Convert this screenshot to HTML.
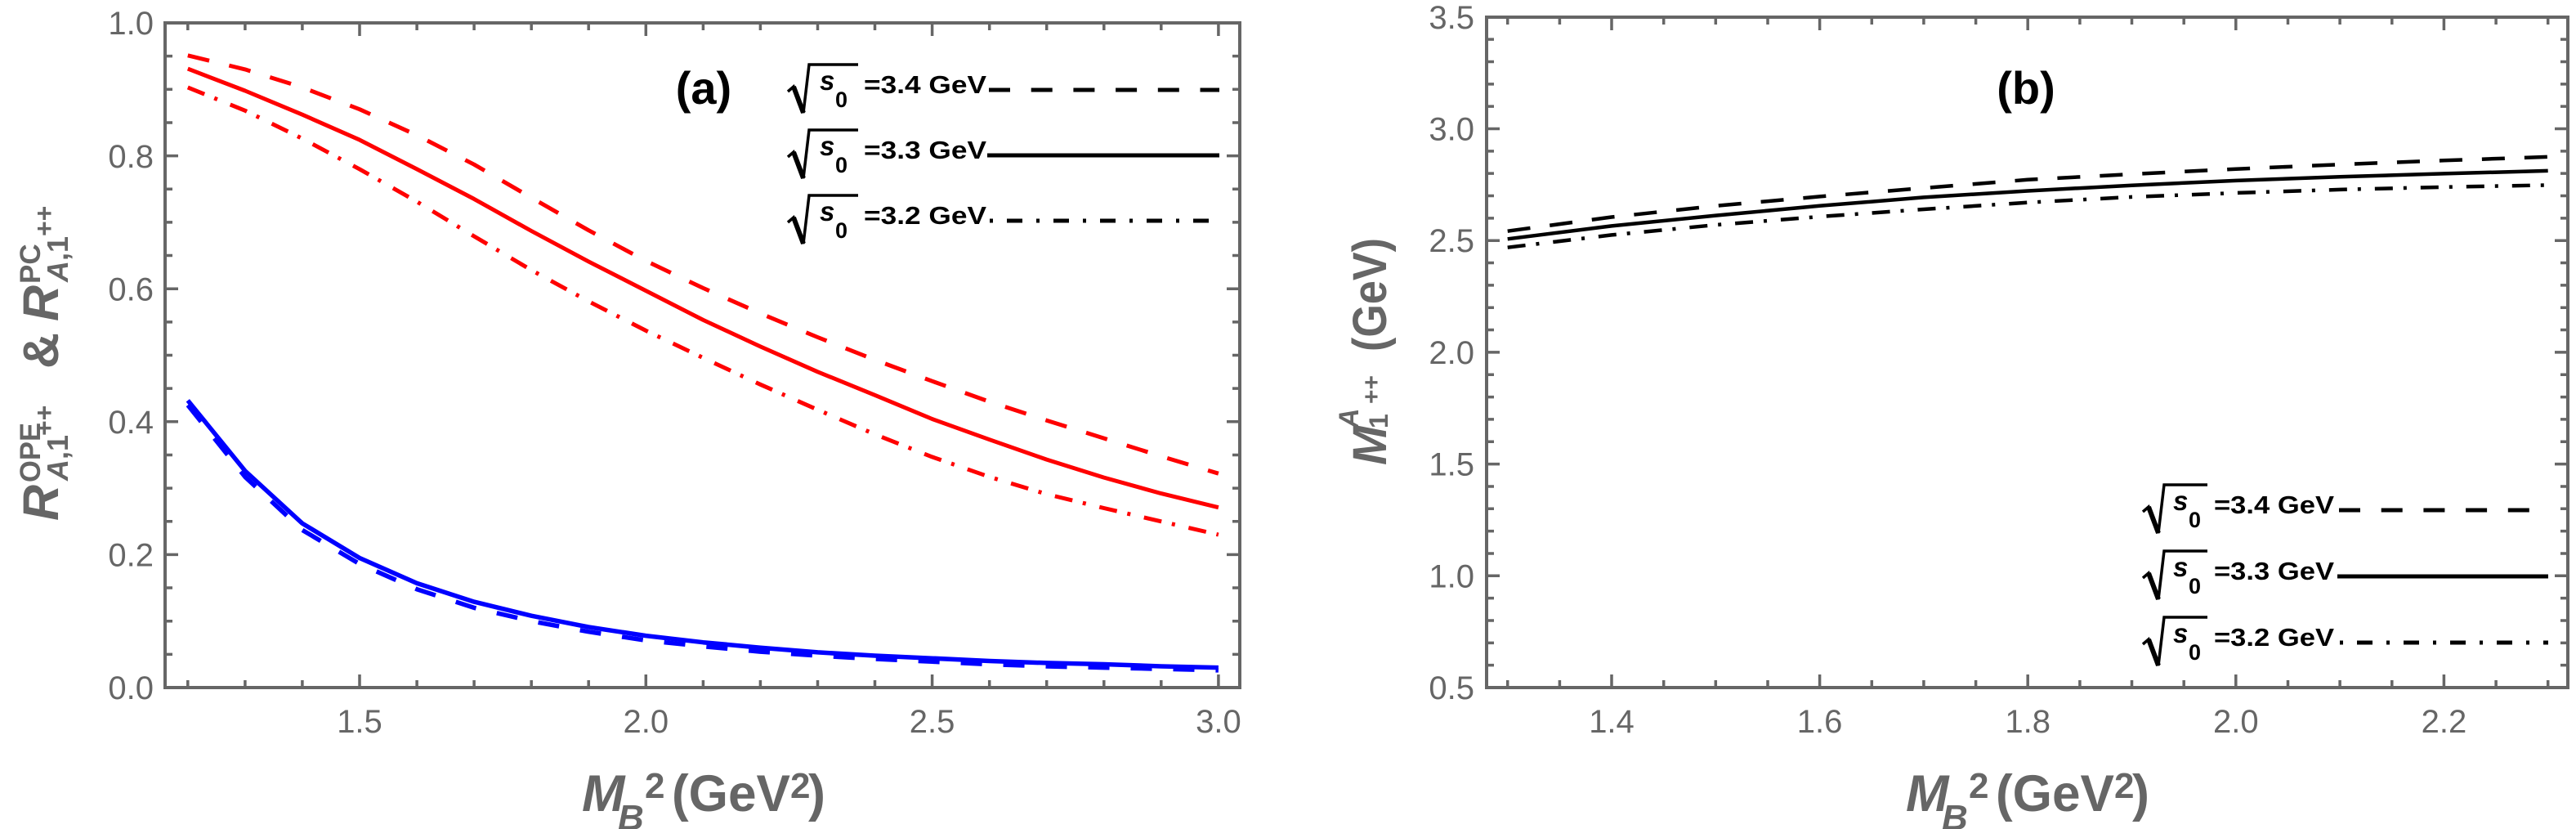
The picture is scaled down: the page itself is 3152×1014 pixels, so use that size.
<!DOCTYPE html>
<html><head><meta charset="utf-8"><style>
html,body{margin:0;padding:0;background:#fff;}
svg{display:block;}
text{font-family:"Liberation Sans",Arial,sans-serif;}
.tl{font-size:40px;fill:#666;}
.ti{fill:#666;font-weight:bold;}
.lg{fill:#000;font-weight:bold;}
</style></head><body>
<svg width="3152" height="1014" viewBox="0 0 3152 1014" xmlns="http://www.w3.org/2000/svg">
<rect width="3152" height="1014" fill="#fff"/>

<!-- ================= LEFT PANEL ================= -->
<g fill="none" stroke-linejoin="round">
<polyline stroke="#0000ff" stroke-width="5.5" points="229.8,489.8 299.9,576.0 369.9,640.2 440.0,682.5 510.1,713.4 580.1,736.1 650.2,753.2 720.2,767.0 790.3,777.6 860.4,785.7 930.4,792.2 1000.5,797.9 1070.5,802.0 1140.6,805.2 1210.7,808.5 1280.7,810.9 1350.8,812.5 1420.8,815.0 1490.9,816.6"/>
<polyline stroke="#0000ff" stroke-width="5.5" stroke-dasharray="26 26" points="229.8,495.5 299.9,583.3 369.9,648.3 440.0,689.8 510.1,720.7 580.1,743.4 650.2,759.7 720.2,772.7 790.3,783.3 860.4,790.6 930.4,797.1 1000.5,802.0 1070.5,806.0 1140.6,809.3 1210.7,812.5 1280.7,815.0 1350.8,816.6 1420.8,818.2 1490.9,819.9"/>
<polyline stroke="#ff0000" stroke-width="5" points="229.8,84.1 299.9,111.0 369.9,140.2 440.0,171.1 510.1,206.9 580.1,243.4 650.2,282.5 720.2,319.9 790.3,355.6 860.4,391.4 930.4,423.9 1000.5,454.8 1070.5,483.3 1140.6,512.5 1210.7,537.7 1280.7,562.1 1350.8,584.1 1420.8,603.6 1490.9,620.7"/>
<polyline stroke="#ff0000" stroke-width="5" stroke-dasharray="27 25" points="229.8,67.8 299.9,84.9 369.9,106.9 440.0,133.7 510.1,165.4 580.1,201.2 650.2,241.8 720.2,281.7 790.3,319.1 860.4,352.4 930.4,383.3 1000.5,412.5 1070.5,440.2 1140.6,466.2 1210.7,491.4 1280.7,514.2 1350.8,536.1 1420.8,558.1 1490.9,579.2"/>
<polyline stroke="#ff0000" stroke-width="5" stroke-dasharray="22 13 4 17" points="229.8,106.9 299.9,135.3 369.9,169.5 440.0,206.9 510.1,246.7 580.1,289.0 650.2,330.4 720.2,368.6 790.3,404.4 860.4,437.7 930.4,470.3 1000.5,501.2 1070.5,531.2 1140.6,558.9 1210.7,583.3 1280.7,604.4 1350.8,621.5 1420.8,637.8 1490.9,654.0"/>
</g>

<!-- frame -->
<rect x="202" y="28" width="1315" height="813" fill="none" stroke="#666" stroke-width="4"/>
<g stroke="#666" stroke-width="3.5" fill="none">
<path d="M229.8 841v-9M299.9 841v-9M369.9 841v-9M510.1 841v-9M580.1 841v-9M650.2 841v-9M720.2 841v-9M860.4 841v-9M930.4 841v-9M1000.5 841v-9M1070.5 841v-9M1210.7 841v-9M1280.7 841v-9M1350.8 841v-9M1420.8 841v-9"/>
<path d="M440 841v-16M790.3 841v-16M1140.6 841v-16M1490.9 841v-16"/>
<path d="M229.8 28v9M299.9 28v9M369.9 28v9M510.1 28v9M580.1 28v9M650.2 28v9M720.2 28v9M860.4 28v9M930.4 28v9M1000.5 28v9M1070.5 28v9M1210.7 28v9M1280.7 28v9M1350.8 28v9M1420.8 28v9"/>
<path d="M440 28v16M790.3 28v16M1140.6 28v16M1490.9 28v16"/>
<path d="M202 800.35h9M202 759.7h9M202 719.05h9M202 637.75h9M202 597.1h9M202 556.45h9M202 475.15h9M202 434.5h9M202 393.85h9M202 312.55h9M202 271.9h9M202 231.25h9M202 149.95h9M202 109.3h9M202 68.65h9"/>
<path d="M202 678.4h16M202 515.8h16M202 353.2h16M202 190.6h16"/>
<path d="M1517 800.35h-9M1517 759.7h-9M1517 719.05h-9M1517 637.75h-9M1517 597.1h-9M1517 556.45h-9M1517 475.15h-9M1517 434.5h-9M1517 393.85h-9M1517 312.55h-9M1517 271.9h-9M1517 231.25h-9M1517 149.95h-9M1517 109.3h-9M1517 68.65h-9"/>
<path d="M1517 678.4h-16M1517 515.8h-16M1517 353.2h-16M1517 190.6h-16"/>
</g>

<!-- tick labels -->
<g class="tl" text-anchor="end">
<text x="188" y="855">0.0</text>
<text x="188" y="692.5">0.2</text>
<text x="188" y="530">0.4</text>
<text x="188" y="367.5">0.6</text>
<text x="188" y="205">0.8</text>
<text x="188" y="42">1.0</text>
</g>
<g class="tl" text-anchor="middle">
<text x="440" y="896">1.5</text>
<text x="790.3" y="896">2.0</text>
<text x="1140.6" y="896">2.5</text>
<text x="1490.9" y="896">3.0</text>
</g>

<!-- x title left -->
<g class="ti">
<text x="712" y="992" font-size="63" font-style="italic">M</text>
<text x="756" y="1015" font-size="44" font-style="italic">B</text>
<text x="789" y="976" font-size="44">2</text>
<text x="822" y="992" font-size="63" textLength="145" lengthAdjust="spacingAndGlyphs">(GeV</text>
<text x="967" y="976" font-size="44">2</text>
<text x="989" y="992" font-size="63">)</text>
</g>

<!-- y title left -->
<g class="ti" transform="translate(71,441) rotate(-90)">
<text x="-196" y="0" font-size="61" font-style="italic">R</text>
<text x="-149" y="-22" font-size="35" textLength="73" lengthAdjust="spacingAndGlyphs">OPE</text>
<text x="-147" y="12" font-size="36"><tspan font-style="italic">A</tspan>,1</text>
<text x="-92" y="-6" font-size="32">++</text>
<text x="-10" y="0" font-size="61">&amp;</text>
<text x="48" y="0" font-size="61" font-style="italic">R</text>
<text x="94" y="-22" font-size="35">PC</text>
<text x="96" y="12" font-size="36"><tspan font-style="italic">A</tspan>,1</text>
<text x="152" y="-6" font-size="32">++</text>
</g>

<!-- (a) label -->
<text class="lg" x="861" y="127" font-size="56" text-anchor="middle">(a)</text>

<!-- legend (a) -->
<g class="lg">
<g>
<path d="M964 112L971 106L983 138L990 79H1050" fill="none" stroke="#000" stroke-width="3.5" stroke-linejoin="miter"/>
<path d="M971 106L983 138" stroke="#000" stroke-width="6"/>
<text x="1003" y="110" font-size="33" font-style="italic">s</text>
<text x="1022" y="131" font-size="27">0</text>
<text x="1057" y="114" font-size="31" textLength="150" lengthAdjust="spacingAndGlyphs">=3.4 GeV</text>
<line x1="1210" y1="110" x2="1492" y2="110" stroke="#000" stroke-width="5" stroke-dasharray="26 25.7"/>
</g>
<g transform="translate(0,80)">
<path d="M964 112L971 106L983 138L990 79H1050" fill="none" stroke="#000" stroke-width="3.5" stroke-linejoin="miter"/>
<path d="M971 106L983 138" stroke="#000" stroke-width="6"/>
<text x="1003" y="110" font-size="33" font-style="italic">s</text>
<text x="1022" y="131" font-size="27">0</text>
<text x="1057" y="114" font-size="31" textLength="150" lengthAdjust="spacingAndGlyphs">=3.3 GeV</text>
<line x1="1208" y1="110" x2="1492" y2="110" stroke="#000" stroke-width="5"/>
</g>
<g transform="translate(0,160)">
<path d="M964 112L971 106L983 138L990 79H1050" fill="none" stroke="#000" stroke-width="3.5" stroke-linejoin="miter"/>
<path d="M971 106L983 138" stroke="#000" stroke-width="6"/>
<text x="1003" y="110" font-size="33" font-style="italic">s</text>
<text x="1022" y="131" font-size="27">0</text>
<text x="1057" y="114" font-size="31" textLength="150" lengthAdjust="spacingAndGlyphs">=3.2 GeV</text>
<line x1="1211" y1="110" x2="1492" y2="110" stroke="#000" stroke-width="5" stroke-dasharray="4 17 19 17"/>
</g>
</g>

<!-- ================= RIGHT PANEL ================= -->
<g fill="none" stroke="#000" stroke-width="4.5" stroke-linejoin="round">
<polyline points="1844.7,292.3 1972.0,276.4 2099.3,263.6 2226.6,251.8 2353.9,241.4 2481.2,233.5 2608.5,226.7 2735.8,220.9 2863.1,216.3 2990.4,212.4 3117.7,208.9"/>
<polyline stroke-dasharray="28 24" points="1844.7,282.7 1972.0,265.5 2099.3,251.8 2226.6,240.4 2353.9,230.0 2481.2,219.8 2608.5,213.0 2735.8,206.7 2863.1,201.2 2990.4,196.3 3117.7,191.9"/>
<polyline stroke-dasharray="22 13 4 17" points="1844.7,302.7 1972.0,287.4 2099.3,275.1 2226.6,265.0 2353.9,256.0 2481.2,247.7 2608.5,240.9 2735.8,236.0 2863.1,231.9 2990.4,228.8 3117.7,226.4"/>
</g>

<rect x="1819" y="21" width="1323" height="820" fill="none" stroke="#666" stroke-width="4"/>
<g stroke="#666" stroke-width="3.5" fill="none">
<path d="M1844.7 841v-9M1908.4 841v-9M2035.7 841v-9M2099.3 841v-9M2163 841v-9M2290.3 841v-9M2353.9 841v-9M2417.6 841v-9M2544.9 841v-9M2608.5 841v-9M2672.2 841v-9M2799.5 841v-9M2863.1 841v-9M2926.8 841v-9M3054.1 841v-9M3117.7 841v-9"/>
<path d="M1972 841v-16M2226.6 841v-16M2481.2 841v-16M2735.8 841v-16M2990.4 841v-16"/>
<path d="M1844.7 21v9M1908.4 21v9M2035.7 21v9M2099.3 21v9M2163 21v9M2290.3 21v9M2353.9 21v9M2417.6 21v9M2544.9 21v9M2608.5 21v9M2672.2 21v9M2799.5 21v9M2863.1 21v9M2926.8 21v9M3054.1 21v9M3117.7 21v9"/>
<path d="M1972 21v16M2226.6 21v16M2481.2 21v16M2735.8 21v16M2990.4 21v16"/>
<path d="M1819 813.66h9M1819 786.32h9M1819 758.98h9M1819 731.64h9M1819 676.96h9M1819 649.62h9M1819 622.28h9M1819 594.94h9M1819 540.26h9M1819 512.92h9M1819 485.58h9M1819 458.24h9M1819 403.56h9M1819 376.22h9M1819 348.88h9M1819 321.54h9M1819 266.86h9M1819 239.52h9M1819 212.18h9M1819 184.84h9M1819 130.16h9M1819 102.82h9M1819 75.48h9M1819 48.14h9"/>
<path d="M1819 704.3h16M1819 567.6h16M1819 430.9h16M1819 294.2h16M1819 157.5h16"/>
<path d="M3142 813.66h-9M3142 786.32h-9M3142 758.98h-9M3142 731.64h-9M3142 676.96h-9M3142 649.62h-9M3142 622.28h-9M3142 594.94h-9M3142 540.26h-9M3142 512.92h-9M3142 485.58h-9M3142 458.24h-9M3142 403.56h-9M3142 376.22h-9M3142 348.88h-9M3142 321.54h-9M3142 266.86h-9M3142 239.52h-9M3142 212.18h-9M3142 184.84h-9M3142 130.16h-9M3142 102.82h-9M3142 75.48h-9M3142 48.14h-9"/>
<path d="M3142 704.3h-16M3142 567.6h-16M3142 430.9h-16M3142 294.2h-16M3142 157.5h-16"/>
</g>

<g class="tl" text-anchor="end">
<text x="1804" y="855">0.5</text>
<text x="1804" y="718.3">1.0</text>
<text x="1804" y="581.6">1.5</text>
<text x="1804" y="444.9">2.0</text>
<text x="1804" y="308.2">2.5</text>
<text x="1804" y="171.5">3.0</text>
<text x="1804" y="35">3.5</text>
</g>
<g class="tl" text-anchor="middle">
<text x="1972" y="896">1.4</text>
<text x="2226.6" y="896">1.6</text>
<text x="2481.2" y="896">1.8</text>
<text x="2735.8" y="896">2.0</text>
<text x="2990.4" y="896">2.2</text>
</g>

<!-- x title right -->
<g class="ti">
<text x="2332" y="992" font-size="63" font-style="italic">M</text>
<text x="2376" y="1015" font-size="44" font-style="italic">B</text>
<text x="2409" y="976" font-size="44">2</text>
<text x="2442" y="992" font-size="63" textLength="145" lengthAdjust="spacingAndGlyphs">(GeV</text>
<text x="2587" y="976" font-size="44">2</text>
<text x="2609" y="992" font-size="63">)</text>
</g>

<!-- y title right -->
<g class="ti" transform="translate(1696,430) rotate(-90)">
<text x="-139" y="0" font-size="58" font-style="italic">M</text>
<text x="-94" y="-34" font-size="34" font-style="italic">A</text>
<text x="-94" y="2" font-size="32">1</text>
<text x="-64" y="-8" font-size="30">++</text>
<text x="0" y="0" font-size="58" textLength="139" lengthAdjust="spacingAndGlyphs">(GeV)</text>
</g>

<text class="lg" x="2479" y="127" font-size="56" text-anchor="middle">(b)</text>

<!-- legend (b) -->
<g class="lg">
<g transform="translate(1658,514)">
<path d="M964 112L971 106L983 138L990 79H1043" fill="none" stroke="#000" stroke-width="3.5" stroke-linejoin="miter"/>
<path d="M971 106L983 138" stroke="#000" stroke-width="6"/>
<text x="1001" y="110" font-size="33" font-style="italic">s</text>
<text x="1020" y="131" font-size="27">0</text>
<text x="1051" y="114" font-size="31" textLength="147" lengthAdjust="spacingAndGlyphs">=3.4 GeV</text>
<line x1="1204" y1="110" x2="1460" y2="110" stroke="#000" stroke-width="5" stroke-dasharray="26 25.7"/>
</g>
<g transform="translate(1658,595)">
<path d="M964 112L971 106L983 138L990 79H1043" fill="none" stroke="#000" stroke-width="3.5" stroke-linejoin="miter"/>
<path d="M971 106L983 138" stroke="#000" stroke-width="6"/>
<text x="1001" y="110" font-size="33" font-style="italic">s</text>
<text x="1020" y="131" font-size="27">0</text>
<text x="1051" y="114" font-size="31" textLength="147" lengthAdjust="spacingAndGlyphs">=3.3 GeV</text>
<line x1="1202" y1="110" x2="1460" y2="110" stroke="#000" stroke-width="5"/>
</g>
<g transform="translate(1658,676)">
<path d="M964 112L971 106L983 138L990 79H1043" fill="none" stroke="#000" stroke-width="3.5" stroke-linejoin="miter"/>
<path d="M971 106L983 138" stroke="#000" stroke-width="6"/>
<text x="1001" y="110" font-size="33" font-style="italic">s</text>
<text x="1020" y="131" font-size="27">0</text>
<text x="1051" y="114" font-size="31" textLength="147" lengthAdjust="spacingAndGlyphs">=3.2 GeV</text>
<line x1="1205" y1="110" x2="1460" y2="110" stroke="#000" stroke-width="5" stroke-dasharray="4 17 19 17"/>
</g>
</g>
</svg>
</body></html>
